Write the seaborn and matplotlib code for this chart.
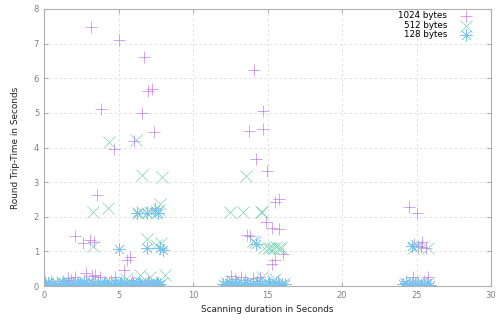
import numpy as np
import pandas as pd
import matplotlib
matplotlib.use("Agg")
import matplotlib.pyplot as plt
import seaborn as sns

# 1024 bytes (purple +)
x_1024 = [3.15, 5.0, 6.7, 6.97, 7.24, 3.82, 6.56, 7.37, 4.69, 6.03,
          3.53, 2.08, 3.08, 2.63, 3.37, 7.43, 5.76, 5.6, 5.36,
          2.81, 3.42, 3.75, 2.08, 1.63, 4.76, 3.2,
          14.07, 14.73, 13.73, 14.73, 14.2, 14.99, 15.5, 15.76, 14.87, 15.3, 15.8,
          16.03, 15.47, 15.3, 13.8, 13.6, 12.57, 13.24, 12.8, 14.0, 14.5,
          24.47, 25.03, 24.85, 25.07, 25.4, 25.63, 25.3, 24.78, 25.74,
          0.1, 0.5, 0.9, 1.3, 1.8, 2.3, 2.7, 3.6, 4.1, 4.5, 5.2, 5.9, 6.4, 7.0, 7.6,
          12.3, 12.9, 13.5, 14.3, 15.1, 15.7, 24.3, 24.9, 25.5]
y_1024 = [7.49, 7.11, 6.62, 5.62, 5.69, 5.12, 5.0, 4.45, 3.96, 4.19,
          2.63, 1.43, 1.33, 1.23, 1.28, 2.24, 0.85, 0.75, 0.46,
          0.37, 0.32, 0.25, 0.27, 0.22, 0.27, 0.3,
          6.24, 5.06, 4.48, 4.54, 3.67, 3.32, 2.42, 2.5, 1.86, 1.67, 1.65,
          0.92, 0.75, 0.63, 1.43, 1.47, 0.29, 0.27, 0.2, 0.22, 0.25,
          2.29, 2.1, 1.2, 1.16, 1.28, 1.09, 1.12, 0.27, 0.25,
          0.12, 0.15, 0.1, 0.14, 0.18, 0.12, 0.16, 0.13, 0.11, 0.15, 0.1, 0.14, 0.12, 0.15, 0.11,
          0.14, 0.12, 0.16, 0.13, 0.11, 0.15, 0.13, 0.1, 0.14]

# 512 bytes (green x)
x_512 = [4.37, 6.16, 3.3, 4.27, 6.61, 7.93, 6.3, 6.6, 6.9, 7.2, 7.5, 7.75, 7.77,
         3.26, 6.88, 7.55, 7.88, 6.43, 7.1, 8.1, 5.5,
         13.53, 12.46, 13.35, 14.58, 14.64, 14.13, 14.0, 14.75, 15.0, 15.2, 15.4,
         15.6, 15.8, 15.9, 14.6, 15.5,
         24.74, 25.74, 25.0,
         0.2, 0.7, 1.2, 1.7, 2.2, 2.6, 3.1, 3.7, 4.4, 4.9, 5.8, 6.5, 7.3, 7.9,
         12.2, 12.7, 13.3, 13.9, 14.8, 15.4, 16.1, 24.2, 24.7, 25.3, 25.8]
y_512 = [4.17, 4.22, 2.15, 2.25, 3.21, 3.14, 2.12, 2.15, 2.12, 2.15, 2.12, 2.2, 2.37,
         1.16, 1.35, 1.18, 1.23, 0.32, 0.27, 0.32, 0.2,
         3.18, 2.15, 2.15, 2.15, 2.15, 1.28, 1.3, 1.09, 1.09, 1.1, 1.09,
         1.12, 1.09, 1.1, 0.25, 0.2,
         1.09, 1.09, 1.15,
         0.1, 0.08, 0.12, 0.06, 0.1, 0.09, 0.13, 0.07, 0.11, 0.09, 0.12, 0.08, 0.1, 0.09,
         0.1, 0.12, 0.08, 0.11, 0.09, 0.13, 0.1, 0.09, 0.11, 0.08, 0.1]

# 128 bytes (blue asterisk)
x_128 = [5.05, 6.21, 7.43, 7.66, 6.88, 6.88, 7.77, 7.99, 24.7, 14.2,
         0.0, 0.15, 0.3, 0.45, 0.6, 0.75, 0.9, 1.05, 1.2, 1.35, 1.5, 1.65, 1.8, 1.95,
         2.1, 2.25, 2.4, 2.55, 2.7, 2.85, 3.0, 3.15, 3.3, 3.45, 3.6, 3.75, 3.9, 4.05,
         4.2, 4.35, 4.5, 4.65, 4.8, 4.95, 5.1, 5.25, 5.4, 5.55, 5.7, 5.85, 6.0, 6.15,
         6.3, 6.45, 6.6, 6.75, 6.9, 7.05, 7.2, 7.35, 7.5, 7.65, 7.8,
         12.0, 12.2, 12.4, 12.6, 12.8, 13.0, 13.2, 13.4, 13.6, 13.8, 14.0, 14.2,
         14.4, 14.6, 14.8, 15.0, 15.2, 15.4, 15.6, 15.8, 16.0, 16.2,
         24.1, 24.3, 24.5, 24.7, 24.9, 25.1, 25.3, 25.5, 25.7, 25.9]
y_128 = [1.06, 2.1, 2.2, 2.1, 2.1, 1.09, 1.09, 1.04, 1.15, 1.2,
         0.05, 0.02, 0.08, 0.04, 0.06, 0.01, 0.07, 0.03, 0.05, 0.09, 0.02, 0.06, 0.04, 0.08,
         0.03, 0.07, 0.05, 0.02, 0.09, 0.04, 0.06, 0.03, 0.08, 0.05, 0.02, 0.07, 0.04, 0.06,
         0.03, 0.08, 0.05, 0.02, 0.06, 0.04, 0.09, 0.03, 0.07, 0.05, 0.02, 0.06, 0.08, 0.04,
         0.05, 0.07, 0.03, 0.06, 0.04, 0.08, 0.05, 0.03, 0.06, 0.04, 0.07,
         0.06, 0.03, 0.08, 0.05, 0.02, 0.07, 0.04, 0.06, 0.09, 0.03, 0.05, 0.08,
         0.04, 0.06, 0.02, 0.07, 0.05, 0.03, 0.08, 0.04, 0.06, 0.05,
         0.05, 0.08, 0.03, 0.06, 0.04, 0.07, 0.02, 0.05, 0.08, 0.04]

series = [("1024 bytes", x_1024, y_1024, "+", "#c070ea"),
          ("512 bytes", x_512, y_512, "x", "#6ccfae"),
          ("128 bytes", x_128, y_128, (8, 2, 0), "#78c4ee")]

plt.rcParams["font.family"] = "DejaVu Sans"
fig = plt.figure(figsize=(4.96, 3.21), dpi=100)
ax = fig.add_axes([44 / 496, 35 / 321, 447 / 496, 277 / 321])

for label, xs, ys, mk, col in series:
    df = pd.DataFrame({"x": xs, "y": ys})
    sns.scatterplot(data=df, x="x", y="y", marker=mk, color=col, s=75,
                    linewidth=0.45, label=label, ax=ax)

ax.set_xlim(0, 30)
ax.set_ylim(0, 8)
ax.set_xticks(range(0, 31, 5))
ax.set_yticks(range(0, 9))
ax.grid(True, color="#dcdcdc", linestyle=(0, (3, 3)), linewidth=0.6)
ax.set_axisbelow(True)
for sp in ax.spines.values():
    sp.set_color("#b0b0b0")
    sp.set_linewidth(0.8)
ax.tick_params(direction="in", length=3, colors="#b0b0b0", labelcolor="#808080",
               labelsize=6, top=True, right=True)
ax.set_xlabel("Scanning duration in Seconds", fontsize=6.4, color="#222222", labelpad=4)
ax.set_ylabel("Round Trip-Time in Seconds", fontsize=6.4, color="#222222", labelpad=10)

leg = ax.legend(loc="upper right", bbox_to_anchor=(0.976, 1.01), frameon=False,
                markerfirst=False, fontsize=6.3, handletextpad=1.2,
                labelspacing=0.05, borderaxespad=0.2)
for t in leg.get_texts():
    t.set_ha("right")

fig.savefig("out.png", dpi=100)
